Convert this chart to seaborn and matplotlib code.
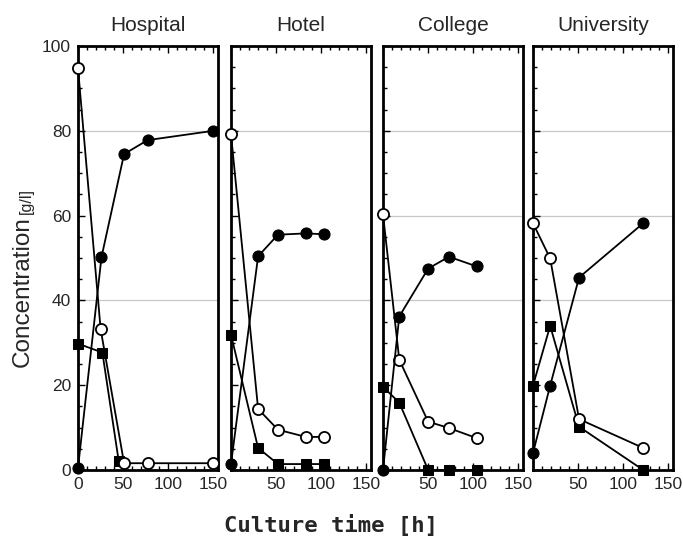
"""Culture time courses for four sites: open circles, filled circles and squares."""
import pandas as pd
import numpy as np
import matplotlib
matplotlib.use('Agg')
import matplotlib.pyplot as plt
import seaborn as sns
from matplotlib.ticker import MultipleLocator

# panel titles
sites = ['Hospital', 'Hotel', 'College', 'University']

# Hospital
hosp_t_open = [0, 25, 51, 77, 150]
hosp_open = [94.8, 33.3, 1.6, 1.6, 1.6]
hosp_t_filled = [0, 26, 51, 77, 150]
hosp_filled = [0.5, 50.2, 74.5, 77.8, 80.0]
hosp_t_sq = [0, 27, 45]
hosp_sq = [29.8, 27.7, 2.2]

# Hotel
hotel_t = [0, 30, 52, 83, 103]
hotel_open = [79.2, 14.4, 9.5, 7.8, 7.8]
hotel_filled = [1.4, 50.4, 55.5, 55.8, 55.6]
hotel_sq = [31.9, 5.2, 1.4, 1.4, 1.4]

# College
coll_t = [0, 18, 50, 73, 104]
coll_open = [60.3, 26.0, 11.4, 9.9, 7.5]
coll_filled = [0.0, 36.2, 47.5, 50.3, 48.0]
coll_sq = [19.6, 15.9, 0.0, 0.0, 0.0]

# University
univ_t = [0, 19, 51, 122]
univ_open = [58.2, 49.9, 12.0, 5.2]
univ_filled = [4.0, 19.9, 45.4, 58.2]
univ_sq = [19.9, 34.0, 10.2, 0.0]

rows = []
def add(site, series, t, y):
    for a, b in zip(t, y):
        rows.append({'site': site, 'series': series, 'time': a, 'conc': b})

add('Hospital', 'open', hosp_t_open, hosp_open)
add('Hospital', 'filled', hosp_t_filled, hosp_filled)
add('Hospital', 'square', hosp_t_sq, hosp_sq)
for s, t, o, f, q in [('Hotel', hotel_t, hotel_open, hotel_filled, hotel_sq),
                      ('College', coll_t, coll_open, coll_filled, coll_sq),
                      ('University', univ_t, univ_open, univ_filled, univ_sq)]:
    add(s, 'open', t, o)
    add(s, 'filled', t, f)
    add(s, 'square', t, q)
df = pd.DataFrame(rows)

sns.set_theme(style='white')
plt.rcParams['font.family'] = ['Liberation Sans', 'DejaVu Sans']

styles = {
    'square': dict(marker='s', markersize=6.5, markerfacecolor='black', markeredgecolor='black'),
    'open': dict(marker='o', markersize=8, markerfacecolor='white', markeredgecolor='black', markeredgewidth=1.3),
    'filled': dict(marker='o', markersize=8, markerfacecolor='black', markeredgecolor='black'),
}
grid_levels = {'Hospital': [40, 80], 'Hotel': [40, 80], 'College': [40, 60, 80], 'University': [40, 60, 80]}
lefts = [78, 231, 383, 533]

fig = plt.figure(figsize=(6.83, 5.48), dpi=100)
W, H = 683, 548
for i, site in enumerate(sites):
    ax = fig.add_axes([lefts[i] / W, 1 - 470 / H, 140 / W, 424 / H])
    for g in grid_levels[site]:
        ax.axhline(g, color='#c8c8c8', lw=0.9, zorder=0)
    for ser in ['square', 'open', 'filled']:
        d = df[(df['site'] == site) & (df['series'] == ser)]
        sns.lineplot(data=d, x='time', y='conc', ax=ax, estimator=None, sort=False,
                     color='black', linewidth=1.3, clip_on=False, zorder=3,
                     legend=False, **styles[ser])
    ax.set_xlim(0, 155)
    ax.set_ylim(0, 100)
    ax.set_xlabel('')
    ax.set_ylabel('')
    ax.set_title(site, fontsize=15, pad=11)
    for sp in ax.spines.values():
        sp.set_linewidth(2)
        sp.set_color('black')
    ax.xaxis.set_minor_locator(MultipleLocator(10))
    ax.yaxis.set_major_locator(MultipleLocator(20))
    ax.yaxis.set_minor_locator(MultipleLocator(5))
    ax.tick_params(which='both', direction='in', top=True, bottom=True, left=True, right=False,
                   color='black', width=1)
    ax.tick_params(which='major', length=5, labelsize=12.5, pad=5)
    ax.tick_params(which='minor', length=3)
    if i == 0:
        ax.set_xticks([0, 50, 100, 150])
    else:
        ax.set_xticks([50, 100, 150])
        ax.set_yticklabels([])

fig.text(34 / W, 1 - 367 / H, 'Concentration', rotation=90, ha='right', va='bottom', fontsize=17.5)
fig.text(34 / W, 1 - 214 / H, '[g/l]', rotation=90, ha='right', va='bottom', fontsize=11.5)
fig.text(331 / W, 1 - 525 / H, 'Culture time [h]', ha='center', va='center', fontsize=16,
         family='DejaVu Sans Mono', fontweight='bold')

fig.savefig('out.png', dpi=100)
